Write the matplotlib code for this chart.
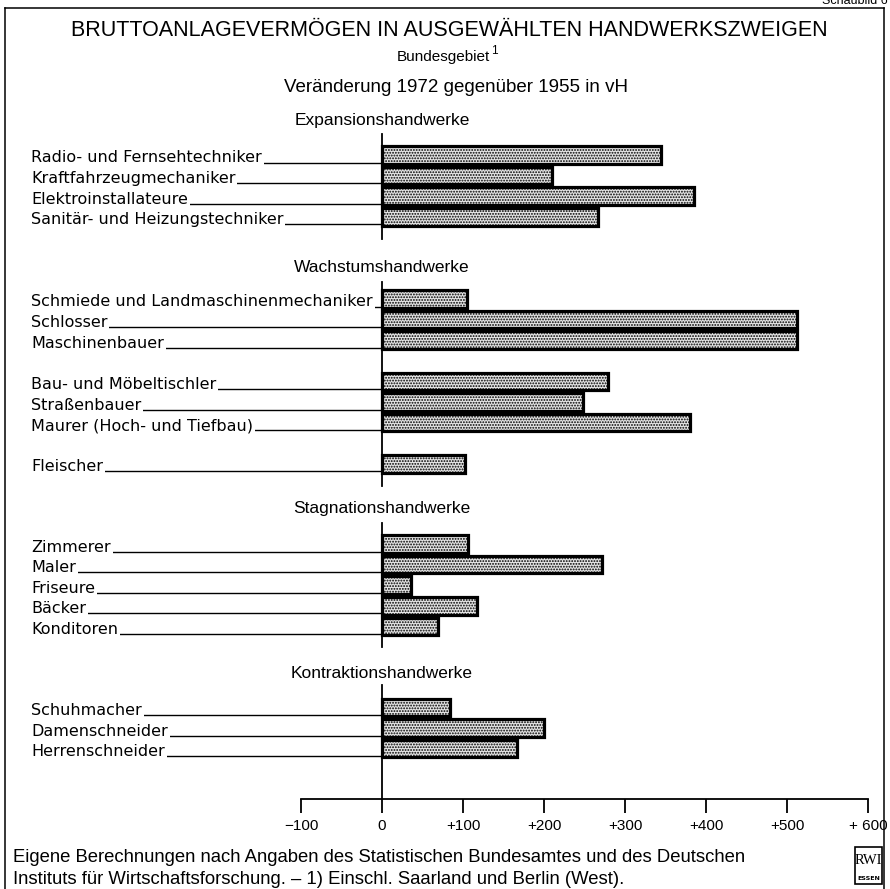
import matplotlib
matplotlib.use("Agg")
import matplotlib.pyplot as plt
from matplotlib.lines import Line2D
from matplotlib.patches import Rectangle

plt.rcParams["hatch.linewidth"] = 0.9

# --- data (Veränderung 1972 gegenüber 1955 in vH) ---
expansion_labels = ["Radio- und Fernsehtechniker", "Kraftfahrzeugmechaniker",
                    "Elektroinstallateure", "Sanitär- und Heizungstechniker"]
expansion_values = [345, 210, 385, 267]

wachstum_labels = ["Schmiede und Landmaschinenmechaniker", "Schlosser",
                   "Maschinenbauer", "Bau- und Möbeltischler", "Straßenbauer",
                   "Maurer (Hoch- und Tiefbau)", "Fleischer"]
wachstum_values = [105, 512, 512, 279, 248, 380, 102]

stagnation_labels = ["Zimmerer", "Maler", "Friseure", "Bäcker", "Konditoren"]
stagnation_values = [106, 271, 36, 117, 69]

kontraktion_labels = ["Schuhmacher", "Damenschneider", "Herrenschneider"]
kontraktion_values = [84, 200, 167]

group_titles = ["Expansionshandwerke", "Wachstumshandwerke",
                "Stagnationshandwerke", "Kontraktionshandwerke"]
x_ticks = [-100, 0, 100, 200, 300, 400, 500, 600]
x_ticklabels = ["\u2212100", "0", "+100", "+200", "+300", "+400", "+500", "+ 600"]

# --- layout (pixel rows, figure is 890 x 889) ---
W, H = 890, 889
ZERO_PX, PX_PER_UNIT = 382, 0.81
PITCH = 20.6
groups = [
    (expansion_labels, expansion_values, 155.0, [0, 1, 2, 3], 120, (134, 239)),
    (wachstum_labels, wachstum_values, 299.0, [0, 1, 2, 4, 5, 6, 8], 268, (282, 486)),
    (stagnation_labels, stagnation_values, 544.0, [0, 1, 2, 3, 4], 509, (523, 647)),
    (kontraktion_labels, kontraktion_values, 707.5, [0, 1, 2], 673, (685, 799)),
]


def px(xp):
    return (xp - ZERO_PX) / PX_PER_UNIT


LABEL_FONT = ["DejaVu Sans"]
COND_FONT = ["Liberation Sans", "DejaVu Sans"]

fig = plt.figure(figsize=(W / 100, H / 100), dpi=100)
ax = fig.add_axes([0, 0, 1, 1])
ax.set_xlim(px(0), px(W))
ax.set_ylim(H, 0)
ax.axis("off")

# frame
for xs, ys in [((5, 5), (8, H + 5)), ((5, 884), (8, 8)), ((884, 884), (8, H + 5))]:
    fig.add_artist(Line2D([x / W for x in xs], [1 - y / H for y in ys],
                          color="black", lw=1.1))
ax.text(px(888), 1, "Schaubild 6", ha="right", va="center", fontsize=9,
        family=COND_FONT)

# titles
ax.text(px(449), 31, "BRUTTOANLAGEVERMÖGEN IN AUSGEWÄHLTEN HANDWERKSZWEIGEN",
        ha="center", va="center", fontsize=15.5, family=COND_FONT)
ax.text(px(443), 57, "Bundesgebiet", ha="center", va="center", fontsize=11,
        family=COND_FONT)
ax.text(px(494), 51, "1", ha="center", va="center", fontsize=8.5, family=COND_FONT)
ax.text(px(456), 88, "Veränderung 1972 gegenüber 1955 in vH", ha="center",
        va="center", fontsize=13.5, family=COND_FONT)

BAR_H = 17.5
for (labels, values, y0, slots, title_y, (ya, yb)), title in zip(groups, group_titles):
    ax.text(0, title_y, title, ha="center", va="center", fontsize=12.5,
            family=COND_FONT)
    ax.plot([0, 0], [ya, yb], color="black", lw=1.3, zorder=4)
    ys = [y0 + s * PITCH for s in slots]
    ax.barh(ys, values, height=BAR_H, left=0, color="#e4e4e4", edgecolor="black",
            hatch="......", linewidth=2.3, zorder=3)
    for lab, y in zip(labels, ys):
        base = y + 7.5
        ax.plot([px(31), 0], [base, base], color="black", lw=1.0, zorder=2)
        ax.text(px(31), base, lab, ha="left", va="baseline", fontsize=11.5,
                family=LABEL_FONT, zorder=2.5,
                bbox=dict(boxstyle="square,pad=0.12", fc="white", ec="none"))

# x axis
AXIS_Y = 799
ax.plot([x_ticks[0], x_ticks[-1]], [AXIS_Y, AXIS_Y], color="black", lw=1.3)
ax.vlines(x_ticks, AXIS_Y, AXIS_Y + 14, color="black", lw=1.3)
for t, lab in zip(x_ticks, x_ticklabels):
    ax.text(t, 826, lab, ha="center", va="center", fontsize=11,
            family=COND_FONT)

# footer
ax.text(px(13), 858, "Eigene Berechnungen nach Angaben des Statistischen "
        "Bundesamtes und des Deutschen", ha="left", va="center", fontsize=13.3,
        family=COND_FONT)
ax.text(px(13), 879, "Instituts für Wirtschaftsforschung. \u2013 1) Einschl. "
        "Saarland und Berlin (West).", ha="left", va="center", fontsize=13.3,
        family=COND_FONT)

# RWI logo
ax.add_patch(Rectangle((px(855), 847), px(882) - px(855), 37, fill=False,
                       ec="black", lw=1.2))
ax.text(px(868.5), 861, "RWI", ha="center", va="center", fontsize=10.5,
        family=["Liberation Serif"])
ax.text(px(868.5), 878, "ESSEN", ha="center", va="center", fontsize=4.5,
        family=["DejaVu Sans"], weight="bold")

fig.savefig("out.png", dpi=100)
